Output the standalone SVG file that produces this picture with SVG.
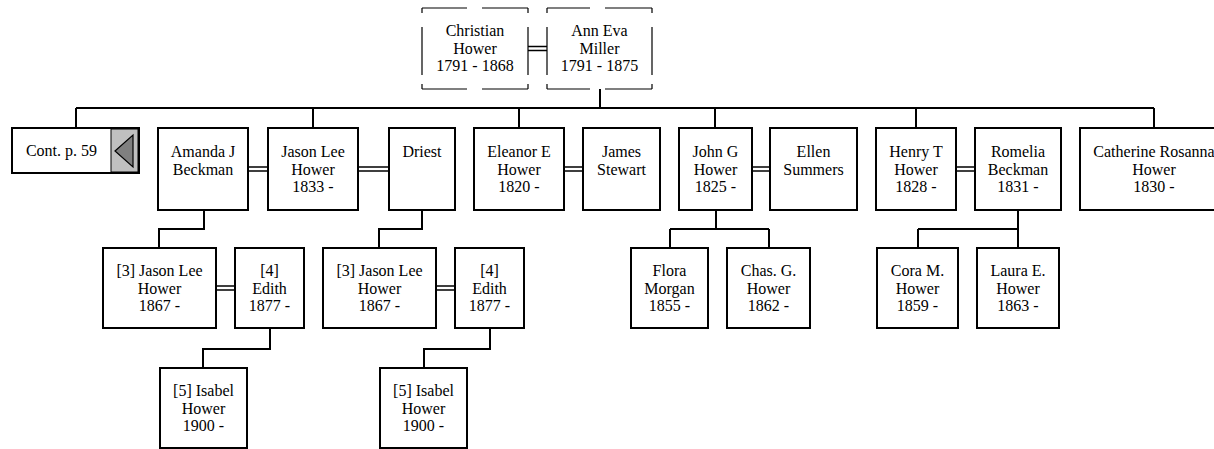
<svg xmlns="http://www.w3.org/2000/svg" width="1214" height="449" viewBox="0 0 1214 449">
<style>
.box{fill:#fff;stroke:#000;stroke-width:2}
.dash{fill:none;stroke:#000;stroke-width:1.2}
.ln{fill:none;stroke:#000;stroke-width:2}
.sp{fill:none;stroke:#000;stroke-width:1.5}
text{font-family:"Liberation Serif","Times New Roman",serif;font-size:16px;fill:#000;text-anchor:middle}
</style>
<rect width="1214" height="449" fill="#fff"/>
<g id="connectors">
<path class="ln" d="M600 89V108M76 108H1154M76 108V128M313 108V128M519 108V128M715 108V128M916 108V128M1154 108V128"/>
<path class="ln" d="M204 210V229H159V248M422 210V229H379V248"/>
<path class="ln" d="M716 210V229M670 229H769M670 229V248M769 229V248"/>
<path class="ln" d="M1018 210V248M918 229H1018M918 229V248"/>
<path class="ln" d="M270 328V349H203V368M490 328V349H424V368"/>
<path class="sp" d="M528 46.5H547M528 50.5H547"/>
<path class="sp" d="M248 167H268M248 171H268M358 167H389M358 171H389M564 167H583M564 171H583M752 167H770M752 171H770M956 167H975M956 171H975"/>
<path class="sp" d="M216 286H235M216 290H235M436 286H455M436 290H455"/>
</g>
<g id="christian">
<path class="dash" d="M422 8H467M482 8H528M422 89H467M482 89H528M422 8V13M422 27V75M422 84V89M528 8V13M528 27V75M528 84V89"/>
<text x="475" y="36">Christian</text><text x="475" y="53.5">Hower</text><text x="475" y="71">1791 - 1868</text>
</g>
<g id="annEva">
<path class="dash" d="M547 8H590M605 8H652M547 89H590M605 89H652M547 8V13M547 27V75M547 84V89M652 8V13M652 27V75M652 84V89"/>
<text x="599.5" y="36">Ann Eva</text><text x="599.5" y="53.5">Miller</text><text x="599.5" y="71">1791 - 1875</text>
</g>
<g id="cont">
<rect class="box" x="12" y="128" width="127" height="45"/>
<rect x="111" y="129" width="27" height="43" fill="#c0c0c0" stroke="#000" stroke-width="1"/>
<polygon points="115,151 133,135 133,167" fill="#808080" stroke="#000" stroke-width="1.2"/>
<text x="61.5" y="156">Cont. p. 59</text>
</g>
<g id="amanda"><rect class="box" x="158" y="128" width="90" height="82"/><text x="203" y="157">Amanda J</text><text x="203" y="174.5">Beckman</text></g>
<g id="jasonLee"><rect class="box" x="268" y="128" width="90" height="82"/><text x="313" y="157">Jason Lee</text><text x="313" y="174.5">Hower</text><text x="313" y="192">1833 -</text></g>
<g id="driest"><rect class="box" x="389" y="128" width="66" height="82"/><text x="422" y="157">Driest</text></g>
<g id="eleanor"><rect class="box" x="474" y="128" width="90" height="82"/><text x="519" y="157">Eleanor E</text><text x="519" y="174.5">Hower</text><text x="519" y="192">1820 -</text></g>
<g id="james"><rect class="box" x="583" y="128" width="77" height="82"/><text x="621.5" y="157">James</text><text x="621.5" y="174.5">Stewart</text></g>
<g id="johnG"><rect class="box" x="679" y="128" width="73" height="82"/><text x="715.5" y="157">John G</text><text x="715.5" y="174.5">Hower</text><text x="715.5" y="192">1825 -</text></g>
<g id="ellen"><rect class="box" x="770" y="128" width="87" height="82"/><text x="813.5" y="157">Ellen</text><text x="813.5" y="174.5">Summers</text></g>
<g id="henry"><rect class="box" x="876" y="128" width="80" height="82"/><text x="916" y="157">Henry T</text><text x="916" y="174.5">Hower</text><text x="916" y="192">1828 -</text></g>
<g id="romelia"><rect class="box" x="975" y="128" width="86" height="82"/><text x="1018" y="157">Romelia</text><text x="1018" y="174.5">Beckman</text><text x="1018" y="192">1831 -</text></g>
<g id="catherine"><rect class="box" x="1080" y="128" width="148" height="82"/><text x="1154" y="157">Catherine Rosanna</text><text x="1154" y="174.5">Hower</text><text x="1154" y="192">1830 -</text></g>
<g id="jason3a"><rect class="box" x="103" y="248" width="113" height="80"/><text x="159.5" y="276">[3] Jason Lee</text><text x="159.5" y="293.5">Hower</text><text x="159.5" y="311">1867 -</text></g>
<g id="edith4a"><rect class="box" x="235" y="248" width="69" height="80"/><text x="269.5" y="276">[4]</text><text x="269.5" y="293.5">Edith</text><text x="269.5" y="311">1877 -</text></g>
<g id="jason3b"><rect class="box" x="323" y="248" width="113" height="80"/><text x="379.5" y="276">[3] Jason Lee</text><text x="379.5" y="293.5">Hower</text><text x="379.5" y="311">1867 -</text></g>
<g id="edith4b"><rect class="box" x="455" y="248" width="69" height="80"/><text x="489.5" y="276">[4]</text><text x="489.5" y="293.5">Edith</text><text x="489.5" y="311">1877 -</text></g>
<g id="flora"><rect class="box" x="631" y="248" width="77" height="80"/><text x="669.5" y="276">Flora</text><text x="669.5" y="293.5">Morgan</text><text x="669.5" y="311">1855 -</text></g>
<g id="chas"><rect class="box" x="727" y="248" width="83" height="80"/><text x="768.5" y="276">Chas. G.</text><text x="768.5" y="293.5">Hower</text><text x="768.5" y="311">1862 -</text></g>
<g id="cora"><rect class="box" x="877" y="248" width="81" height="80"/><text x="917.5" y="276">Cora M.</text><text x="917.5" y="293.5">Hower</text><text x="917.5" y="311">1859 -</text></g>
<g id="laura"><rect class="box" x="977" y="248" width="82" height="80"/><text x="1018" y="276">Laura E.</text><text x="1018" y="293.5">Hower</text><text x="1018" y="311">1863 -</text></g>
<g id="isabelA"><rect class="box" x="160" y="368" width="87" height="80"/><text x="203.5" y="396">[5] Isabel</text><text x="203.5" y="413.5">Hower</text><text x="203.5" y="431">1900 -</text></g>
<g id="isabelB"><rect class="box" x="380" y="368" width="87" height="80"/><text x="423.5" y="396">[5] Isabel</text><text x="423.5" y="413.5">Hower</text><text x="423.5" y="431">1900 -</text></g>
</svg>
